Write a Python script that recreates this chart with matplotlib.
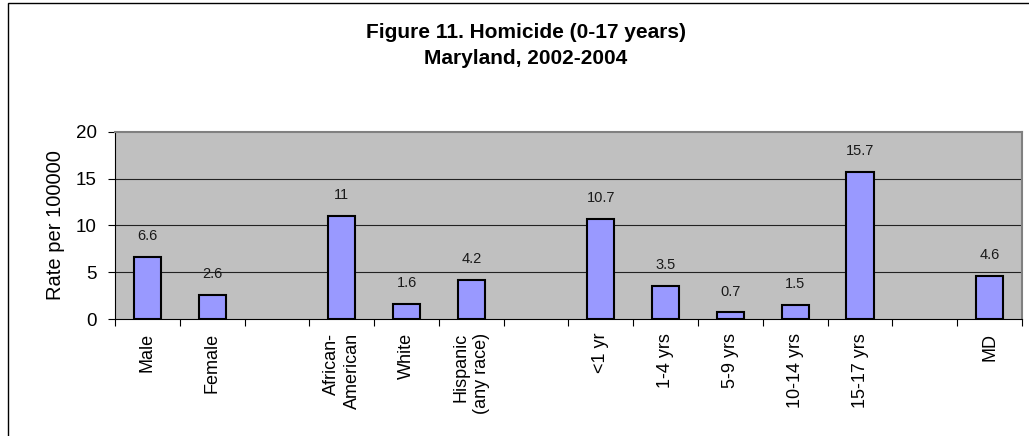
import numpy as np
import matplotlib
matplotlib.use("Agg")
import matplotlib.pyplot as plt
from matplotlib.patches import Rectangle

plt.rcParams['font.family'] = ['Liberation Sans', 'DejaVu Sans']

categories = ["Male", "Female", "", "African-\nAmerican", "White", "Hispanic\n(any race)", "",
              "<1 yr", "1-4 yrs", "5-9 yrs", "10-14 yrs", "15-17 yrs", "", "MD"]
values = [6.6, 2.6, np.nan, 11, 1.6, 4.2, np.nan, 10.7, 3.5, 0.7, 1.5, 15.7, np.nan, 4.6]
value_labels = ["6.6", "2.6", "", "11", "1.6", "4.2", "", "10.7", "3.5", "0.7", "1.5", "15.7", "", "4.6"]
yticks = [0, 5, 10, 15, 20]

fig = plt.figure(figsize=(10.29, 4.36), dpi=100)
W, H = 1029, 436
ax = fig.add_axes([115 / W, 1 - 319 / H, (1022 - 115) / W, (319 - 132) / H])

# outer frame (extends beyond the right and bottom edges)
fig.patches.append(Rectangle((8 / W, -0.1), 1.2, 1 - 3 / H + 0.1, transform=fig.transFigure,
                             fill=False, edgecolor='black', linewidth=1.0))

x = np.arange(len(categories))
ax.set_facecolor('#C0C0C0')
ax.bar(x, values, width=0.42, color='#9999FF', edgecolor='black', linewidth=1.5, zorder=3)
for xi, v, lab in zip(x, values, value_labels):
    if lab:
        ax.annotate(lab, (xi, v), xytext=(0, 10), textcoords='offset points',
                    ha='center', va='bottom', fontsize=10.5, color='#1a1a1a')

ax.set_xlim(-0.5, len(categories) - 0.5)
ax.set_ylim(0, 20)
ax.set_yticks(yticks)
ax.set_yticklabels([str(t) for t in yticks], fontsize=13.5)
for t in [5, 10, 15]:
    ax.axhline(t, color='#222222', linewidth=0.8, zorder=1)

ax.set_xticks(x)
ax.set_xticklabels(categories, rotation=90, fontsize=13, va='top', ha='center',
                   multialignment='right', linespacing=1.3)
ax.tick_params(axis='x', which='major', length=0, pad=10)
ax.set_xticks(np.arange(-0.5, len(categories)), minor=True)
ax.tick_params(axis='x', which='minor', length=5, direction='out', width=0.8)
ax.tick_params(axis='y', length=5, width=0.8, direction='out', pad=8)

for s in ['top', 'right']:
    ax.spines[s].set_color('#808080')
    ax.spines[s].set_linewidth(1.5)
for s in ['left', 'bottom']:
    ax.spines[s].set_color('black')
    ax.spines[s].set_linewidth(0.8)

ax.set_ylabel("Rate per 100000", fontsize=14.5, labelpad=8)

fig.text(526 / W, 1 - 32 / H, "Figure 11. Homicide (0-17 years)", ha='center', va='center',
         fontsize=15, fontweight='bold')
fig.text(526 / W, 1 - 58 / H, "Maryland, 2002-2004", ha='center', va='center',
         fontsize=15, fontweight='bold')

fig.savefig("out.png", dpi=100)
